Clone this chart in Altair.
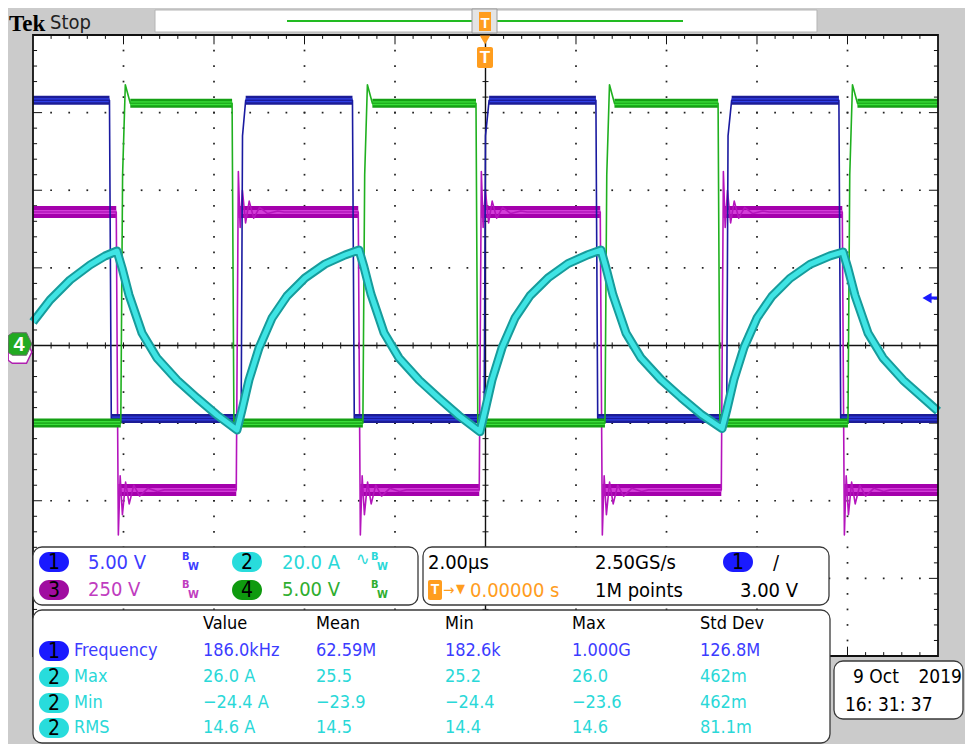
import altair as alt
import numpy as np
import pandas as pd

# ---------------- waveform data ----------------
# time in microseconds, values in the channel's own unit
ch1_t = [-10.0, -8.31, -8.27, -5.40, -5.37, -5.30, -2.94, -2.90, -0.03, 0.00, 0.08,
         2.44, 2.48, 5.33, 5.36, 5.44, 7.81, 7.85, 10.0]
ch1_v = [15.8, 15.8, -4.7, -4.7, 13.5, 15.8, 15.8, -4.7, -4.7, 13.5, 15.8,
         15.8, -4.7, -4.7, 13.5, 15.8, 15.8, -4.7, -4.7]

ch2_t = [-10.0, -9.624, -9.182, -8.740, -8.409, -8.144,
         -8.033, -7.878, -7.591, -7.260, -6.818, -6.376, -5.934, -5.492,
         -5.381, -5.227, -5.006, -4.718, -4.387, -3.989, -3.547, -3.105, -2.796,
         -2.685, -2.530, -2.243, -1.912, -1.470, -1.028, -0.586, -0.122,
         -0.011, 0.144, 0.365, 0.652, 0.983, 1.381, 1.823, 2.265, 2.552,
         2.663, 2.818, 3.105, 3.436, 3.878, 4.320, 4.762, 5.227,
         5.337, 5.492, 5.713, 6.000, 6.331, 6.729, 7.171, 7.613, 7.901,
         8.011, 8.166, 8.453, 8.785, 9.227, 9.669, 10.0]
ch2_a = [6.05, 11.72, 16.88, 20.74, 23.06, 24.35,
         19.97, 13.01, 3.22, -3.22, -8.89, -13.53, -17.91, -21.77,
         -16.62, -8.89, -0.64, 7.09, 12.75, 17.39, 21.0, 23.32, 24.6,
         20.2, 13.2, 3.3, -3.2, -8.9, -13.6, -18.1, -22.2,
         -16.8, -8.9, -0.6, 7.1, 12.8, 17.4, 21.1, 23.4, 24.6,
         20.0, 13.0, 3.2, -3.2, -8.8, -13.4, -17.7, -21.4,
         -16.4, -8.7, -0.5, 7.1, 12.7, 17.3, 20.9, 23.1, 24.1,
         19.8, 12.9, 3.2, -3.2, -8.9, -13.5, -16.9]

ch3_t = [-10.0, -8.160, -8.114, -8.074, -8.024, -7.954, -7.874, -7.774, -7.644, -7.464, -7.244, -7.10,
         -5.508, -5.462, -5.422, -5.372, -5.302, -5.222, -5.122, -4.992, -4.812, -4.592, -4.45,
         -2.812, -2.766, -2.726, -2.676, -2.606, -2.526, -2.426, -2.296, -2.116, -1.896, -1.75,
         -0.138, -0.092, -0.052, -0.002, 0.068, 0.148, 0.248, 0.378, 0.558, 0.778, 0.92,
         2.536, 2.582, 2.622, 2.672, 2.742, 2.822, 2.922, 3.052, 3.232, 3.452, 3.60,
         5.211, 5.257, 5.297, 5.347, 5.417, 5.497, 5.597, 5.727, 5.907, 6.127, 6.27,
         7.885, 7.931, 7.971, 8.021, 8.091, 8.171, 8.271, 8.401, 8.581, 8.801, 8.95, 10.0]
ch3_v = [430, 430, -610, -420, -545, -440, -510, -450, -485, -460, -470, -465,
         -465, 560, 380, 500, 395, 465, 410, 445, 425, 433, 430,
         430, -610, -420, -545, -440, -510, -450, -485, -460, -470, -465,
         -465, 560, 380, 500, 395, 465, 410, 445, 425, 433, 430,
         430, -610, -420, -545, -440, -510, -450, -485, -460, -470, -465,
         -465, 560, 380, 500, 395, 465, 410, 445, 425, 433, 430,
         430, -610, -420, -545, -440, -510, -450, -485, -460, -470, -465, -465]

ch4_t = [-10.0, -8.06, -8.02, -7.96, -7.85, -5.60, -5.56, -2.71, -2.67, -2.61, -2.50,
         -0.21, -0.17, 2.64, 2.68, 2.74, 2.85, 5.14, 5.18, 8.01, 8.05, 8.11, 8.22, 10.0]
ch4_v = [-5.0, -5.0, 11.0, 16.8, 15.6, 15.6, -5.0, -5.0, 11.0, 16.8, 15.6,
         15.6, -5.0, -5.0, 11.0, 16.8, 15.6, 15.6, -5.0, -5.0, 11.0, 16.8, 15.6, 15.6]

# vertical settings (units per division)
ch_scale = [5.0, 20.0, 250.0, 5.0]

# ---------------- readout texts ----------------
ch_settings = ["5.00 V", "20.0 A", "250 V", "5.00 V"]
timebase = ["2.00µs", "2.50GS/s", "0.00000 s", "1M points", "3.00 V"]
meas_headers = ["Value", "Mean", "Min", "Max", "Std Dev"]
meas_labels = ["Frequency", "Max", "Min", "RMS"]
meas_badges = ["1", "2", "2", "2"]
meas_values = [
    ["186.0kHz", "62.59M", "182.6k", "1.000G", "126.8M"],
    ["26.0 A", "25.5", "25.2", "26.0", "462m"],
    ["\u221224.4 A", "\u221223.9", "\u221224.4", "\u221223.6", "462m"],
    ["14.6 A", "14.5", "14.4", "14.6", "81.1m"],
]
date_text = ["9 Oct", "2019", "16: 31: 37"]

# ---------------- styles / layout ----------------
W, H, M = 957, 736, 8
FONT = "DejaVu Sans Condensed, Liberation Sans Narrow, Liberation Sans, sans-serif"
BG = "#cbcbcb"
C1T, C2T, C3T, C4T = "#3c3cff", "#2ad8d8", "#c03cc0", "#2fae2f"
B1, B2, B3, B4 = "#1a1aff", "#28dcdc", "#a00ca0", "#0f9a0f"
ORANGE = "#ff9d1e"
TXT_BOX, TXT_MEAS = 20, 18

xs = alt.Scale(domain=[-10.5525, 10.5967], nice=False, zero=False)
ys = alt.Scale(domain=[-5.1337, 4.3478], nice=False, zero=False)


def sx(f):
    return alt.X(f"{f}:Q", scale=xs, axis=None)


def sy(f):
    return alt.Y(f"{f}:Q", scale=ys, axis=None)


def px(f):
    return alt.X(f"{f}:Q", scale=None, axis=None)


def py(f):
    return alt.Y(f"{f}:Q", scale=None, axis=None)


def trace_df(ts, vs, per):
    return pd.DataFrame({"t": ts, "d": [v / per for v in vs], "i": list(range(len(ts)))})


def flat_df(ts, vs, per, min_len=0.25):
    rows = [(ts[i], ts[i + 1], vs[i] / per) for i in range(len(ts) - 1)
            if vs[i] == vs[i + 1] and ts[i + 1] - ts[i] >= min_len]
    return pd.DataFrame(rows, columns=["t1", "t2", "d"])


def span_df(ts, vs, per, jump):
    """noise band from each switching edge to the next, at the settled level"""
    edges = [i for i in range(len(vs) - 1) if abs(vs[i + 1] - vs[i]) >= jump]
    starts = [0] + [i + 1 for i in edges]
    ends = edges + [len(vs) - 1]
    rows = [(ts[s], ts[e], vs[e] / per) for s, e in zip(starts, ends)]
    return pd.DataFrame(rows, columns=["t1", "t2", "d"])


def line(df, color, width):
    return alt.Chart(df).mark_line(color=color, strokeWidth=width, strokeJoin="round").encode(
        x=sx("t"), y=sy("d"), order="i:Q")


def band(df, color, width):
    return alt.Chart(df).mark_rule(color=color, strokeWidth=width).encode(
        x=sx("t1"), x2=alt.X2("t2:Q"), y=sy("d"))


def prect(rows, **kw):
    df = pd.DataFrame(rows, columns=["x1", "y1", "x2", "y2", "c"])
    for k in ["x1", "x2", "y1", "y2"]:
        df[k] = df[k] - M
    return alt.Chart(df).mark_rect(**kw).encode(
        x=px("x1"), x2=alt.X2("x2:Q"), y=py("y1"), y2=alt.Y2("y2:Q"),
        color=alt.Color("c:N", scale=None))


def ptext(rows, font=FONT, weight="normal", align="left", baseline="middle"):
    df = pd.DataFrame(rows, columns=["x", "y", "s", "c", "z"])
    df["x"] = df["x"] - M
    df["y"] = df["y"] - M
    return alt.Chart(df).mark_text(font=font, fontWeight=weight, align=align, baseline=baseline).encode(
        x=px("x"), y=py("y"), text="s:N", color=alt.Color("c:N", scale=None),
        size=alt.Size("z:Q", scale=None))


layers = []

# plot area
area = pd.DataFrame({"x1": [-10.0], "x2": [10.0], "y1": [-4.0], "y2": [4.0]})
layers.append(alt.Chart(area).mark_rect(color="white").encode(
    x=sx("x1"), x2=alt.X2("x2:Q"), y=sy("y1"), y2=alt.Y2("y2:Q")))

# header bar
layers.append(prect([(155, 10, 817, 32, "white")], stroke="#b5b5b5", strokeWidth=1))
layers.append(alt.Chart(pd.DataFrame({"x1": [287 - M], "x2": [683 - M], "y": [21 - M]})).mark_rule(
    color="#22bb22", strokeWidth=2).encode(x=px("x1"), x2=alt.X2("x2:Q"), y=py("y")))
layers.append(prect([(472, 9, 497, 33, "#e4e4e4")], stroke="#9a9a9a", strokeWidth=1))
layers.append(prect([(479, 12, 491, 31, ORANGE)]))
layers.append(ptext([(485, 23, "T", "white", 15)], font="Liberation Sans", weight="bold", align="center"))

# graticule
minor_x = np.arange(1, 50) / 5.0
minor_y = np.arange(-19, 20) / 5.0
dots = []
for xd in [1, 2, 3, 4, 6, 7, 8, 9]:
    for yd in minor_y:
        dots.append((-10 + 2 * xd, yd))
for yd in [-3, -2, -1, 1, 2, 3]:
    for xd in minor_x:
        dots.append((-10 + 2 * xd, yd))
dots_df = pd.DataFrame(dots, columns=["t", "d"])
layers.append(alt.Chart(dots_df).mark_square(size=3, color="#222222", opacity=1).encode(x=sx("t"), y=sy("d")))

vt = []  # short vertical ticks
for xd in minor_x:
    t = -10 + 2 * xd
    major = abs(xd - round(xd)) < 1e-9
    L = 0.12 if major else 0.05
    vt += [(t, -0.04, 0.04), (t, 4.0, 4.0 - L), (t, -4.0, -4.0 + L)]
vt_df = pd.DataFrame(vt, columns=["t", "d1", "d2"])
layers.append(alt.Chart(vt_df).mark_rule(color="#111111", strokeWidth=1).encode(
    x=sx("t"), y=sy("d1"), y2=alt.Y2("d2:Q")))
ht = []  # short horizontal ticks
for yd in minor_y:
    major = abs(yd - round(yd)) < 1e-9
    L = 0.2 if major else 0.09
    ht += [(-0.066, 0.066, yd), (-10.0, -10.0 + L, yd), (10.0 - L, 10.0, yd)]
ht_df = pd.DataFrame(ht, columns=["t1", "t2", "d"])
layers.append(alt.Chart(ht_df).mark_rule(color="#111111", strokeWidth=1).encode(
    x=sx("t1"), x2=alt.X2("t2:Q"), y=sy("d")))
cross = pd.DataFrame({"t1": [-10.0, 0.0], "t2": [10.0, 0.0], "d1": [0.0, -4.0], "d2": [0.0, 4.0]})
layers.append(alt.Chart(cross).mark_rule(color="#111111", strokeWidth=1.4).encode(
    x=sx("t1"), x2=alt.X2("t2:Q"), y=sy("d1"), y2=alt.Y2("d2:Q")))

# waveforms
s1, s2, s3, s4 = ch_scale
m_span = span_df(ch3_t, ch3_v, s3, 600)
layers.append(band(m_span, "#a400ac", 12))
layers.append(band(m_span, "#d33cd8", 4))
layers.append(line(trace_df(ch3_t, ch3_v, s3), "#b414bc", 1.6))

layers.append(band(flat_df(ch1_t, ch1_v, s1), "#1c1c96", 9))
layers.append(band(flat_df(ch1_t, ch1_v, s1), "#3040e6", 4))
layers.append(line(trace_df(ch1_t, ch1_v, s1), "#1a1aa0", 1.6))

layers.append(band(flat_df(ch4_t, ch4_v, s4), "#14a014", 9))
layers.append(band(flat_df(ch4_t, ch4_v, s4), "#3ade3a", 4))
layers.append(line(trace_df(ch4_t, ch4_v, s4), "#1fb01f", 1.6))

cy = trace_df(ch2_t, ch2_a, s2)
layers.append(line(cy, "#169c9c", 9))
layers.append(line(cy, "#3fe4e4", 5))

# frame
layers.append(alt.Chart(area).mark_rect(fillOpacity=0, stroke="#111111", strokeWidth=1.8).encode(
    x=sx("x1"), x2=alt.X2("x2:Q"), y=sy("y1"), y2=alt.Y2("y2:Q")))

# markers: trigger position below the top edge
tri = pd.DataFrame({"x": [485 - M], "y": [40 - M]})
layers.append(alt.Chart(tri).mark_point(shape="triangle-down", filled=True, size=110, color=ORANGE, opacity=1).encode(
    x=px("x"), y=py("y")))
layers.append(prect([(477, 47, 493, 68, ORANGE)], cornerRadius=2))
layers.append(ptext([(485, 58, "T", "white", 17)], font="Liberation Sans", weight="bold", align="center"))

# channel ground markers on the left
HEX = "M -1 -0.7 L -0.65 -0.95 L 0.55 -0.95 L 1 0 L 0.55 0.95 L -0.65 0.95 L -1 0.7 Z"
mk3 = pd.DataFrame({"x": [20 - M], "y": [352 - M]})
layers.append(alt.Chart(mk3).mark_point(shape=HEX, filled=True, size=560, color="white", stroke="#b020b0",
                                        strokeWidth=1.5, opacity=1).encode(x=px("x"), y=py("y")))
mk4 = pd.DataFrame({"x": [20 - M], "y": [344 - M]})
layers.append(alt.Chart(mk4).mark_point(shape=HEX, filled=True, size=560, color="#22aa22", stroke="#6a6a6a",
                                        strokeWidth=1, opacity=1).encode(x=px("x"), y=py("y")))
layers.append(ptext([(19, 345, "4", "white", 20)], font="Liberation Sans", weight="bold", align="center"))

# trigger level arrow on the right
arr = pd.DataFrame({"x": [927 - M], "y": [298 - M]})
layers.append(alt.Chart(arr).mark_point(shape="triangle-left", filled=True, size=110, color=B1, opacity=1).encode(
    x=px("x"), y=py("y")))
layers.append(alt.Chart(pd.DataFrame({"x1": [929 - M], "x2": [937 - M], "y": [298 - M]})).mark_rule(
    color=B1, strokeWidth=3).encode(x=px("x1"), x2=alt.X2("x2:Q"), y=py("y")))

# readout boxes
layers.append(prect([(33, 547, 418, 605, "white"), (423, 547, 829, 605, "white"),
                     (33, 610, 830, 743, "white"), (834, 661, 963, 719, "white")],
                    stroke="#3a3a3a", strokeWidth=1.3, cornerRadius=9))

rows_y = [651, 677, 703, 728]
badge_rows = [(54, 562, "1", B1), (247, 562, "2", B2), (54, 590, "3", B3), (247, 590, "4", B4),
              (738, 562, "1", B1)]
for i, b in enumerate(meas_badges):
    badge_rows.append((54, rows_y[i], b, B1 if b == "1" else B2))
layers.append(prect([(x - 15, y - 10, x + 15, y + 10, c) for x, y, _, c in badge_rows], cornerRadius=10))
layers.append(ptext([(x, y + 1, s, "black", 21) for x, y, s, _ in badge_rows], align="center"))

# orange trigger badge in the timebase box
layers.append(prect([(428, 580, 442, 600, ORANGE)], cornerRadius=2))
layers.append(ptext([(435, 590, "T", "white", 14)], font="Liberation Sans", weight="bold", align="center"))

main_txt = [
    (88, 563, ch_settings[0], C1T, TXT_BOX), (282, 563, ch_settings[1], C2T, TXT_BOX),
    (88, 590, ch_settings[2], C3T, TXT_BOX), (282, 590, ch_settings[3], C4T, TXT_BOX),
    (428, 563, timebase[0], "black", TXT_BOX), (595, 563, timebase[1], "black", TXT_BOX),
    (470, 591, timebase[2], ORANGE, TXT_BOX), (595, 591, timebase[3], "black", TXT_BOX),
    (740, 591, timebase[4], "black", TXT_BOX), (773, 563, "/", "black", TXT_BOX),
    (443, 590, "\u2192", ORANGE, 15), (456, 589, "\u25BC", ORANGE, 13),
    (356, 560, "\u223F", C2T, 18),
    (853, 677, date_text[0], "black", 19), (845, 705, date_text[2], "black", 19),
]
hx = [203, 316, 445, 572, 700]
for j, h in enumerate(meas_headers):
    main_txt.append((hx[j], 624, h, "black", TXT_MEAS))
for i, lab in enumerate(meas_labels):
    col = C1T if meas_badges[i] == "1" else C2T
    main_txt.append((74, rows_y[i], lab, col, TXT_MEAS))
    for j, v in enumerate(meas_values[i]):
        main_txt.append((hx[j], rows_y[i], v, col, TXT_MEAS))
layers.append(ptext(main_txt))
layers.append(ptext([(962, 677, date_text[1], "black", 19)], align="right"))

bw = []
for (bx, by, col) in [(182, 562, C1T), (371, 562, C2T), (182, 590, C3T), (371, 590, C4T)]:
    bw.append((bx, by - 5, "B", col, 11))
    bw.append((bx + 6, by + 5, "W", col, 11))
layers.append(ptext(bw, font="DejaVu Sans Condensed, Liberation Sans", weight="bold"))

# header text
layers.append(ptext([(9, 31, "Tek", "black", 23)], font="Liberation Serif", weight="bold", baseline="alphabetic"))
layers.append(ptext([(50, 29, "Stop", "#222222", 20)], baseline="alphabetic"))

chart = (
    alt.layer(*layers)
    .resolve_scale(x="independent", y="independent", color="independent", size="independent")
    .properties(width=W, height=H, background=BG, padding=0,
                autosize=alt.AutoSizeParams(type="none"))
    .configure_view(stroke=None)
)
chart.save("out.html", embed_options={"renderer": "svg", "actions": False})
